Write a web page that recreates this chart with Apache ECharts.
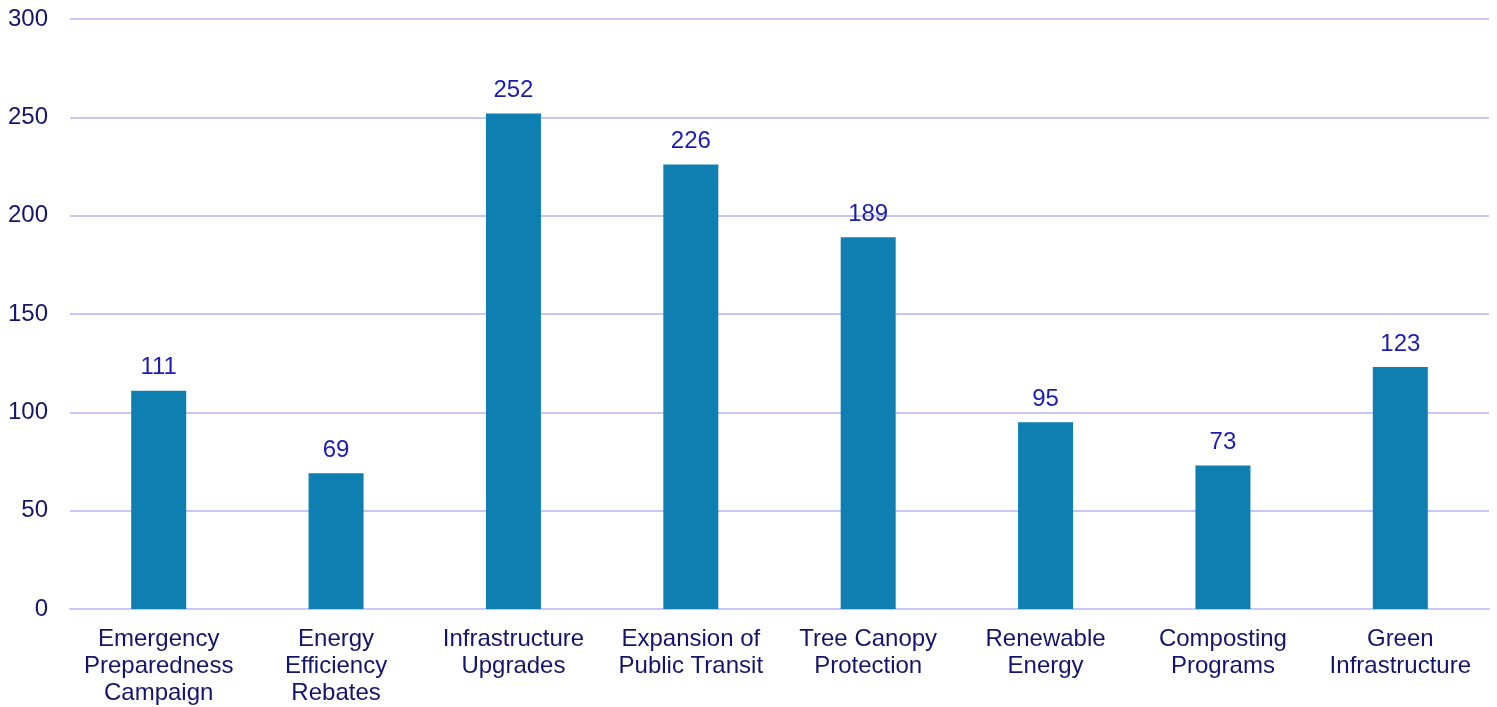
<!DOCTYPE html>
<html>
<head>
<meta charset="utf-8">
<script src="https://cdn.jsdelivr.net/npm/echarts@6/dist/echarts.min.js"></script>
<style>
html,body{margin:0;padding:0;background:#fff;}
#chart{width:1497px;height:707px;}
</style>
</head>
<body>
<div id="chart"></div>
<script>
const categories = ["Emergency\nPreparedness\nCampaign", "Energy\nEfficiency\nRebates", "Infrastructure\nUpgrades", "Expansion of\nPublic Transit", "Tree Canopy\nProtection", "Renewable\nEnergy", "Composting\nPrograms", "Green\nInfrastructure"];
const values = [111, 69, 252, 226, 189, 95, 73, 123];
const yTicks = [0, 50, 100, 150, 200, 250, 300];

const chart = echarts.init(document.getElementById('chart'), null, {renderer: 'canvas'});
chart.setOption({
  animation: false,
  textStyle: {fontFamily: 'Liberation Sans, Arial, sans-serif'},
  grid: {left: 70, right: 8, top: 19, bottom: 98, containLabel: false},
  xAxis: {
    type: 'category',
    data: categories,
    axisTick: {show: false},
    axisLine: {show: true, lineStyle: {color: '#c8c8f6', width: 2}},
    axisLabel: {color: '#14146a', fontSize: 24, lineHeight: 27, margin: 17, interval: 0, fontFamily: 'Liberation Sans'}
  },
  yAxis: {
    type: 'value',
    min: yTicks[0],
    max: yTicks[yTicks.length - 1],
    interval: 50,
    axisLine: {show: false},
    axisTick: {show: false},
    splitLine: {lineStyle: {color: '#c8c8f6', width: 2}},
    axisLabel: {color: '#14146a', fontSize: 24, margin: 22, fontFamily: 'Liberation Sans'}
  },
  series: [{
    type: 'bar',
    data: values,
    barWidth: 55,
    itemStyle: {color: '#0e7fb0'},
    label: {show: true, position: 'top', distance: 11, color: '#1c1cb4', fontSize: 24, fontFamily: 'Liberation Sans'}
  }]
});
</script>
</body>
</html>
